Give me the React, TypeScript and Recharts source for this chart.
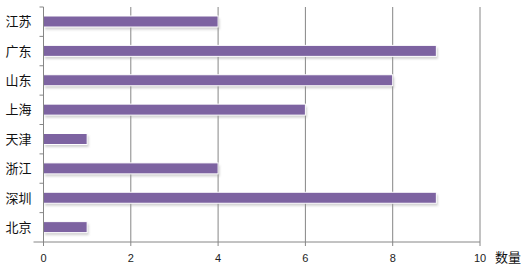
import React from 'react';
import { BarChart, Bar, XAxis, YAxis, CartesianGrid, Label } from 'recharts';

const provinces = ['江苏', '广东', '山东', '上海', '天津', '浙江', '深圳', '北京'];
const counts = [4, 9, 8, 6, 1, 4, 9, 1];
const xTicks = [0, 2, 4, 6, 8, 10];

const data = provinces.map((name, i) => ({ name, count: counts[i] }));

const W = 529;
const H = 280;
const MARGIN = { top: 7, right: 49, left: 0, bottom: 0 };
const Y_AXIS_W = 43.5;
const X_AXIS_H = 38;
const PLOT_H = H - MARGIN.top - MARGIN.bottom - X_AXIS_H;
const BAND = PLOT_H / provinces.length;
const AXIS_X = MARGIN.left + Y_AXIS_W;
const AXIS_COLOR = '#868686';
const BAR_COLOR = '#7d63a1';
const FONT = '"Noto Sans CJK SC", "Noto Sans", sans-serif';

// Category label plus Excel-style tick marks on the band boundaries
const CategoryTick = (props: any) => {
  const { y, payload, index } = props;
  const top = y - BAND / 2;
  const bottom = y + BAND / 2;
  return (
    <g>
      <line x1={AXIS_X - 4} x2={AXIS_X} y1={top} y2={top} stroke={AXIS_COLOR} strokeWidth={1} />
      {index === provinces.length - 1 && (
        <line x1={AXIS_X - 10} x2={AXIS_X} y1={bottom} y2={bottom} stroke={AXIS_COLOR} strokeWidth={1} />
      )}
      <text
        x={AXIS_X - 12}
        y={y}
        dy="0.36em"
        textAnchor="end"
        fontSize={13}
        fontFamily={FONT}
        fill="#111"
      >
        {payload.value}
      </text>
    </g>
  );
};

// Bar with a soft drop shadow and a thin white rim
const ShadowBar = (props: any) => {
  const { x, y, width, height } = props;
  if (!width || width <= 0) return null;
  return (
    <g>
      <rect x={x + 1.5} y={y + 2.5} width={width} height={height} fill="#9a9a9a" opacity={0.45} filter="url(#barShadow)" />
      <rect x={x} y={y} width={width} height={height} fill={BAR_COLOR} stroke="#ffffff" strokeWidth={1} />
    </g>
  );
};

export default function App() {
  return (
    <div style={{ position: 'absolute', left: 0, top: 0, width: W, height: H, background: '#fff' }}>
      <BarChart width={W} height={H} data={data} layout="vertical" margin={MARGIN} barCategoryGap="0%">
        <defs>
          <filter id="barShadow" x="-10%" y="-50%" width="120%" height="200%">
            <feGaussianBlur stdDeviation="1.2" />
          </filter>
        </defs>
        <CartesianGrid horizontal={false} vertical stroke={AXIS_COLOR} strokeWidth={1} />
        <XAxis
          type="number"
          domain={[0, 10]}
          ticks={xTicks}
          interval={0}
          height={X_AXIS_H}
          stroke={AXIS_COLOR}
          tickSize={4}
          tickMargin={8}
          tick={{ fontSize: 11, fill: '#222', fontFamily: '"Liberation Sans", Arial, sans-serif' }}
        >
          <Label value="数量" position="right" offset={15} dy={-4} fontSize={13} fill="#111" fontFamily={FONT} />
        </XAxis>
        <YAxis
          type="category"
          dataKey="name"
          width={Y_AXIS_W}
          stroke={AXIS_COLOR}
          tickLine={false}
          tick={<CategoryTick />}
          interval={0}
        />
        <Bar dataKey="count" barSize={11} shape={<ShadowBar />} isAnimationActive={false} />
      </BarChart>
    </div>
  );
}
